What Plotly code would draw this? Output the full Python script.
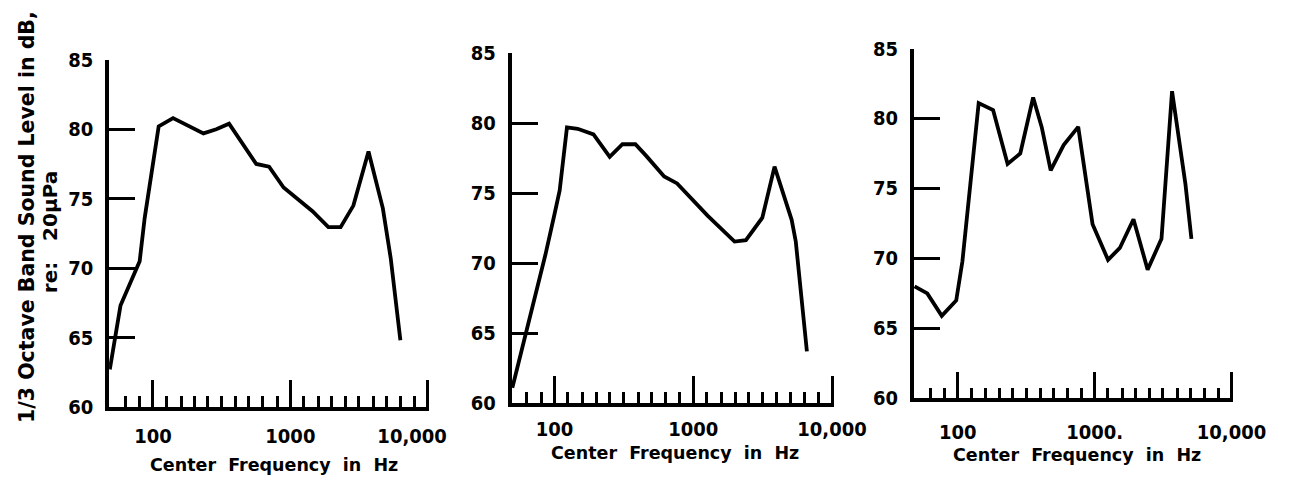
import plotly.graph_objects as go

W, H = 1312, 481

# ---- data (frequency in Hz, level in dB) ----
freq_a = [48.5, 58, 80, 87, 110, 140, 233, 289, 358, 468, 565, 700, 893,
          1449, 1892, 2322, 2876, 3706, 4714, 5380, 6324]
level_a = [62.7, 67.3, 70.5, 73.6, 80.2, 80.8, 79.7, 80.0, 80.4, 78.7, 77.5,
           77.3, 75.8, 74.1, 72.95, 72.95, 74.5, 78.4, 74.3, 70.7, 64.8]

freq_b = [49.7, 86, 100, 109, 123, 147, 191, 250, 309, 383, 460, 617, 765,
          1268, 1985, 2396, 3147, 3853, 5118, 5480, 6590]
level_b = [61.1, 70.6, 73.5, 75.2, 79.7, 79.6, 79.2, 77.6, 78.5, 78.5, 77.65,
           76.2, 75.7, 73.4, 71.55, 71.65, 73.25, 76.9, 73.1, 71.55, 63.7]

freq_c = [48.3, 59.8, 76.3, 97.3, 108, 142, 181, 231, 286, 355, 411, 477,
          593, 758, 965, 1252, 1527, 1921, 2438, 3077, 3676, 4606, 5093]
level_c = [68.0, 67.5, 65.9, 67.0, 69.8, 81.1, 80.6, 76.75, 77.5, 81.5,
           79.35, 76.3, 78.1, 79.4, 72.45, 69.9, 70.75, 72.8, 69.2, 71.4,
           81.95, 75.3, 71.4]

major_ticks = [100, 1000, 10000]
major_text_a = ["100", "1000", "10,000\u00a0\u00a0\u00a0\u00a0\u00a0"]
major_text_b = ["100", "1000", "10,000"]
major_text_c = ["100", "1000.", "10,000"]
minor_ticks = [63, 80, 125, 160, 200, 250, 315, 400, 500, 630, 800,
               1250, 1600, 2000, 2500, 3150, 4000, 5000, 6300, 8000]
y_ticks = [60, 65, 70, 75, 80, 85]
y_text = ["60", "65", "70", "75", "80", "85"]

y_title_1 = "1/3 Octave Band Sound Level in dB,"
y_title_2 = "re:\u00a0\u00a0 20\u03bcPa"
x_title = "Center\u00a0 Frequency\u00a0 in\u00a0 Hz"

TICKFONT = "DejaVu Sans Condensed, sans-serif"
FONT = "DejaVu Sans, sans-serif"

# panel geometry in pixels: left, right, top(85), bottom(60), log range
EXT = 0.012
panels = [
    dict(f=freq_a, v=level_a, l=105, r=436 + EXT * 143, t=41.9, b=407.3,
         xr=[1.6804, 4.0 + EXT], txt=major_text_a, tt=(276, 468), so=8),
    dict(f=freq_b, v=level_b, l=523.3, r=856 + EXT * 144, t=35, b=403.3,
         xr=[1.6921, 4.0 + EXT], txt=major_text_b, tt=(693, 456), so=5),
    dict(f=freq_c, v=level_c, l=941, r=1271 + EXT * 142, t=30, b=398.3,
         xr=[1.6786, 4.0 + EXT], txt=major_text_c, tt=(1110, 458), so=13),
]

fig = go.Figure()
layout = dict(
    width=W, height=H, margin=dict(l=0, r=0, t=0, b=0),
    paper_bgcolor="white", plot_bgcolor="white", showlegend=False,
    font=dict(family=FONT, color="black"),
)
annotations = []

for i, p in enumerate(panels, start=1):
    sfx = "" if i == 1 else str(i)
    fig.add_trace(go.Scatter(
        x=p["f"], y=p["v"], mode="lines",
        line=dict(color="black", width=3.8),
        xaxis="x" + sfx, yaxis="y" + sfx, cliponaxis=False,
    ))
    layout["xaxis" + sfx] = dict(
        type="log", range=p["xr"],
        domain=[p["l"] / W, p["r"] / W],
        anchor="y" + sfx,
        showline=True, linecolor="black", linewidth=3.8,
        showgrid=False, zeroline=False,
        tickmode="array", tickvals=major_ticks, ticktext=p["txt"],
        ticks="inside", ticklen=27, tickwidth=3, tickcolor="black",
        tickfont=dict(size=20, family=TICKFONT, color="black", weight="bold"),
        ticklabelstandoff=p["so"],
        minor=dict(tickmode="array", tickvals=minor_ticks, ticks="inside",
                   ticklen=11, tickwidth=2.6, tickcolor="black",
                   showgrid=False),
        fixedrange=True,
    )
    layout["yaxis" + sfx] = dict(
        range=[60, 85],
        domain=[(H - p["b"]) / H, (H - p["t"]) / H],
        anchor="x" + sfx,
        showline=True, linecolor="black", linewidth=3.8,
        showgrid=False, zeroline=False,
        tickmode="array", tickvals=y_ticks, ticktext=y_text,
        ticks="inside", ticklen=26, tickwidth=3, tickcolor="black",
        tickfont=dict(size=20, family=TICKFONT, color="black", weight="bold"),
        ticklabelstandoff=8,
        fixedrange=True,
    )
    annotations.append(dict(
        text="<b>" + x_title + "</b>", xref="paper", yref="paper",
        x=p["tt"][0] / W, y=(H - p["tt"][1]) / H,
        xanchor="center", yanchor="middle", showarrow=False,
        font=dict(size=17.5, family=FONT, color="black"),
    ))

annotations.append(dict(
    text="<b>" + y_title_1 + "</b>", xref="paper", yref="paper",
    x=19 / W, y=(H - 207) / H, textangle=-90,
    xanchor="center", yanchor="middle", showarrow=False,
    font=dict(size=20.5, family=FONT, color="black"),
))
annotations.append(dict(
    text="<b>" + y_title_2 + "</b>", xref="paper", yref="paper",
    x=44 / W, y=(H - 223) / H, textangle=-90,
    xanchor="center", yanchor="middle", showarrow=False,
    font=dict(size=20, family=FONT, color="black"),
))
layout["annotations"] = annotations
fig.update_layout(**layout)

fig.write_html("out.html")
